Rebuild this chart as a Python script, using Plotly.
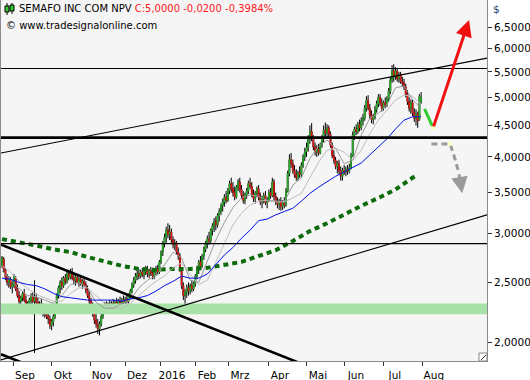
import math
import pandas as pd
import plotly.graph_objects as go

# ---------------- data ----------------
DATES = pd.bdate_range("2015-08-21", "2016-07-29")  # 246 daily bars

OPEN = [
    2.66, 2.73, 2.62, 2.55, 2.50, 2.52, 2.46, 2.47, 2.54, 2.44,
    2.38, 2.33, 2.36, 2.40, 2.34, 2.28, 2.31, 2.34, 2.37, 2.33,
    2.36, 2.32, 2.28, 2.30, 2.27, 2.23, 2.26, 2.20, 2.18, 2.13,
    2.16, 2.20, 2.28, 2.38, 2.45, 2.50, 2.47, 2.54, 2.51, 2.58,
    2.55, 2.60, 2.54, 2.52, 2.55, 2.50, 2.53, 2.49, 2.51, 2.48,
    2.43, 2.38, 2.33, 2.28, 2.24, 2.17, 2.14, 2.10, 2.14, 2.20,
    2.26, 2.29, 2.27, 2.30, 2.28, 2.31, 2.29, 2.32, 2.30, 2.33,
    2.31, 2.34, 2.32, 2.35, 2.33, 2.38, 2.42, 2.48, 2.52, 2.56,
    2.58, 2.56, 2.60, 2.57, 2.60, 2.63, 2.58, 2.61, 2.59, 2.56,
    2.60, 2.63, 2.60, 2.70, 2.80, 2.90, 2.96, 3.04, 2.99, 3.02,
    2.93, 2.88, 2.90, 2.80, 2.76, 2.62, 2.47, 2.38, 2.41, 2.45,
    2.42, 2.47, 2.44, 2.49, 2.56, 2.63, 2.70, 2.66, 2.76, 2.83,
    2.90, 2.94, 2.92, 3.04, 3.09, 3.14, 3.10, 3.21, 3.26, 3.33,
    3.38, 3.44, 3.40, 3.53, 3.62, 3.55, 3.50, 3.44, 3.57, 3.64,
    3.54, 3.46, 3.40, 3.47, 3.52, 3.62, 3.58, 3.48, 3.42, 3.49,
    3.55, 3.44, 3.38, 3.42, 3.46, 3.37, 3.40, 3.50, 3.46, 3.64,
    3.45, 3.38, 3.35, 3.39, 3.32, 3.36, 3.34, 3.52, 3.76, 3.96,
    3.90, 3.80, 3.74, 3.70, 3.77, 3.74, 3.88, 4.00, 4.08, 4.14,
    4.28, 4.40, 4.30, 4.15, 4.08, 4.12, 4.06, 4.18, 4.28, 4.42,
    4.38, 4.46, 4.36, 4.18, 4.02, 3.95, 3.86, 3.90, 3.80, 3.72,
    3.80, 3.78, 3.82, 3.79, 3.84, 4.02, 4.34, 4.44, 4.40, 4.52,
    4.46, 4.58, 4.62, 4.80, 4.94, 4.80, 4.68, 4.60, 4.64, 4.78,
    4.88, 5.00, 4.90, 4.80, 4.90, 4.86, 4.97, 5.12, 5.34, 5.52,
    5.40, 5.52, 5.36, 5.44, 5.30, 5.28, 5.20, 5.06, 4.92, 4.80,
    4.90, 4.72, 4.62, 4.70, 4.60, 4.92,
]
HIGH = [
    2.76, 2.75, 2.64, 2.58, 2.56, 2.55, 2.52, 2.58, 2.56, 2.48,
    2.42, 2.38, 2.42, 2.44, 2.38, 2.33, 2.36, 2.40, 2.41, 2.52,
    2.40, 2.36, 2.33, 2.35, 2.31, 2.29, 2.30, 2.24, 2.21, 2.18,
    2.22, 2.30, 2.40, 2.47, 2.52, 2.55, 2.56, 2.58, 2.60, 2.62,
    2.63, 2.64, 2.58, 2.57, 2.58, 2.55, 2.56, 2.53, 2.55, 2.51,
    2.47, 2.42, 2.36, 2.32, 2.26, 2.22, 2.18, 2.16, 2.22, 2.28,
    2.32, 2.33, 2.32, 2.34, 2.33, 2.35, 2.34, 2.36, 2.35, 2.37,
    2.36, 2.38, 2.37, 2.39, 2.40, 2.44, 2.50, 2.55, 2.59, 2.62,
    2.63, 2.62, 2.64, 2.62, 2.66, 2.66, 2.63, 2.65, 2.64, 2.62,
    2.66, 2.67, 2.72, 2.82, 2.92, 3.00, 3.08, 3.12, 3.10, 3.06,
    2.97, 2.94, 2.92, 2.85, 2.79, 2.64, 2.50, 2.44, 2.48, 2.50,
    2.49, 2.52, 2.51, 2.58, 2.66, 2.72, 2.76, 2.78, 2.86, 2.92,
    2.98, 3.02, 3.06, 3.12, 3.18, 3.20, 3.24, 3.30, 3.36, 3.42,
    3.48, 3.52, 3.56, 3.66, 3.70, 3.64, 3.58, 3.60, 3.68, 3.70,
    3.60, 3.52, 3.50, 3.56, 3.66, 3.70, 3.64, 3.54, 3.52, 3.58,
    3.60, 3.50, 3.46, 3.50, 3.52, 3.44, 3.54, 3.56, 3.70, 3.68,
    3.50, 3.44, 3.42, 3.44, 3.40, 3.44, 3.56, 3.80, 4.04, 4.06,
    3.96, 3.88, 3.82, 3.80, 3.86, 3.92, 4.04, 4.14, 4.22, 4.34,
    4.50, 4.54, 4.34, 4.22, 4.18, 4.20, 4.22, 4.34, 4.50, 4.55,
    4.52, 4.50, 4.40, 4.22, 4.10, 4.00, 3.94, 3.96, 3.86, 3.84,
    3.88, 3.86, 3.88, 3.90, 4.06, 4.40, 4.48, 4.52, 4.56, 4.60,
    4.64, 4.70, 4.86, 5.02, 5.04, 4.88, 4.76, 4.70, 4.84, 4.94,
    5.06, 5.06, 4.98, 4.94, 5.00, 5.02, 5.18, 5.40, 5.64, 5.66,
    5.60, 5.58, 5.50, 5.50, 5.40, 5.36, 5.26, 5.14, 5.00, 4.96,
    4.96, 4.80, 4.78, 4.74, 5.06, 5.10,
]
LOW = [
    2.64, 2.60, 2.52, 2.47, 2.45, 2.44, 2.40, 2.45, 2.42, 2.36,
    2.30, 2.28, 2.33, 2.32, 2.26, 2.24, 2.27, 2.30, 2.31, 1.92,
    2.30, 2.26, 2.22, 2.25, 2.20, 2.19, 2.18, 2.14, 2.10, 2.09,
    2.12, 2.18, 2.26, 2.35, 2.40, 2.43, 2.45, 2.48, 2.49, 2.52,
    2.53, 2.52, 2.48, 2.47, 2.49, 2.46, 2.47, 2.44, 2.46, 2.40,
    2.36, 2.30, 2.25, 2.20, 2.14, 2.11, 2.06, 2.05, 2.12, 2.18,
    2.22, 2.24, 2.24, 2.26, 2.25, 2.27, 2.26, 2.28, 2.27, 2.29,
    2.28, 2.30, 2.29, 2.31, 2.31, 2.35, 2.40, 2.45, 2.49, 2.52,
    2.53, 2.54, 2.55, 2.53, 2.57, 2.55, 2.54, 2.56, 2.53, 2.53,
    2.57, 2.57, 2.58, 2.68, 2.76, 2.85, 2.90, 2.95, 2.93, 2.90,
    2.84, 2.82, 2.78, 2.72, 2.60, 2.44, 2.34, 2.30, 2.36, 2.38,
    2.39, 2.41, 2.42, 2.46, 2.53, 2.58, 2.62, 2.64, 2.72, 2.80,
    2.84, 2.88, 2.90, 2.98, 3.02, 3.04, 3.07, 3.14, 3.22, 3.26,
    3.32, 3.36, 3.38, 3.48, 3.50, 3.45, 3.40, 3.42, 3.52, 3.50,
    3.42, 3.36, 3.35, 3.42, 3.48, 3.55, 3.44, 3.38, 3.36, 3.44,
    3.40, 3.34, 3.30, 3.36, 3.34, 3.30, 3.38, 3.42, 3.44, 3.40,
    3.34, 3.30, 3.28, 3.27, 3.28, 3.30, 3.32, 3.50, 3.72, 3.84,
    3.76, 3.70, 3.66, 3.66, 3.70, 3.70, 3.84, 3.94, 4.00, 4.08,
    4.20, 4.24, 4.10, 4.02, 4.00, 4.02, 4.04, 4.14, 4.22, 4.32,
    4.30, 4.30, 4.14, 3.98, 3.90, 3.82, 3.76, 3.74, 3.66, 3.66,
    3.74, 3.72, 3.74, 3.76, 3.82, 4.00, 4.26, 4.34, 4.36, 4.40,
    4.42, 4.50, 4.58, 4.74, 4.76, 4.62, 4.54, 4.52, 4.60, 4.72,
    4.82, 4.84, 4.74, 4.76, 4.80, 4.82, 4.92, 5.06, 5.28, 5.30,
    5.34, 5.30, 5.28, 5.26, 5.20, 5.14, 5.00, 4.86, 4.74, 4.70,
    4.66, 4.56, 4.50, 4.46, 4.58, 4.88,
]
CLOSE = [
    2.74, 2.62, 2.55, 2.50, 2.53, 2.46, 2.48, 2.55, 2.44, 2.38,
    2.33, 2.36, 2.40, 2.34, 2.28, 2.31, 2.34, 2.37, 2.33, 2.36,
    2.32, 2.28, 2.30, 2.27, 2.23, 2.26, 2.20, 2.18, 2.13, 2.16,
    2.20, 2.28, 2.38, 2.45, 2.50, 2.47, 2.54, 2.51, 2.58, 2.55,
    2.60, 2.54, 2.52, 2.55, 2.50, 2.53, 2.49, 2.51, 2.48, 2.43,
    2.38, 2.33, 2.28, 2.24, 2.17, 2.14, 2.10, 2.14, 2.20, 2.26,
    2.29, 2.27, 2.30, 2.28, 2.31, 2.29, 2.32, 2.30, 2.33, 2.31,
    2.34, 2.32, 2.35, 2.33, 2.38, 2.42, 2.48, 2.52, 2.56, 2.58,
    2.56, 2.60, 2.57, 2.60, 2.63, 2.58, 2.61, 2.59, 2.56, 2.60,
    2.63, 2.60, 2.70, 2.80, 2.90, 2.96, 3.04, 2.99, 3.02, 2.93,
    2.88, 2.90, 2.80, 2.76, 2.62, 2.47, 2.38, 2.41, 2.45, 2.42,
    2.47, 2.44, 2.49, 2.56, 2.63, 2.70, 2.66, 2.76, 2.83, 2.90,
    2.94, 2.92, 3.04, 3.09, 3.14, 3.10, 3.21, 3.26, 3.33, 3.38,
    3.44, 3.40, 3.53, 3.62, 3.55, 3.50, 3.44, 3.57, 3.64, 3.54,
    3.46, 3.40, 3.47, 3.52, 3.62, 3.58, 3.48, 3.42, 3.49, 3.55,
    3.44, 3.38, 3.42, 3.46, 3.37, 3.40, 3.50, 3.46, 3.64, 3.45,
    3.38, 3.35, 3.39, 3.32, 3.36, 3.34, 3.52, 3.76, 3.96, 3.90,
    3.80, 3.74, 3.70, 3.77, 3.74, 3.88, 4.00, 4.08, 4.14, 4.28,
    4.40, 4.30, 4.15, 4.08, 4.12, 4.06, 4.18, 4.28, 4.42, 4.38,
    4.46, 4.36, 4.18, 4.02, 3.95, 3.86, 3.90, 3.80, 3.72, 3.80,
    3.78, 3.82, 3.79, 3.84, 4.02, 4.34, 4.44, 4.40, 4.52, 4.46,
    4.58, 4.62, 4.80, 4.94, 4.80, 4.68, 4.60, 4.64, 4.78, 4.88,
    5.00, 4.90, 4.80, 4.90, 4.86, 4.97, 5.12, 5.34, 5.52, 5.40,
    5.52, 5.36, 5.44, 5.30, 5.28, 5.20, 5.06, 4.92, 4.80, 4.90,
    4.72, 4.62, 4.70, 4.58, 5.02, 5.00,
]

# moving averages (every 5th bar)
MA_DATES = list(DATES[::5])
MA_BLUE = [
    2.54, 2.53, 2.50, 2.48, 2.47, 2.44, 2.40, 2.37, 2.36, 2.35,
    2.34, 2.34, 2.34, 2.34, 2.33, 2.35, 2.36, 2.38, 2.42, 2.47,
    2.51, 2.56, 2.54, 2.54, 2.58, 2.67, 2.77, 2.85, 2.95, 3.04,
    3.15, 3.17, 3.22, 3.26, 3.30, 3.39, 3.49, 3.57, 3.65, 3.72,
    3.78, 3.85, 3.91, 4.03, 4.16, 4.28, 4.44, 4.59, 4.65, 4.65,
]
MA_GRAY_FAST = [
    2.61, 2.52, 2.44, 2.38, 2.37, 2.34, 2.31, 2.38, 2.48, 2.50,
    2.45, 2.32, 2.27, 2.27, 2.31, 2.34, 2.45, 2.52, 2.56, 2.67,
    2.80, 2.74, 2.52, 2.50, 2.70, 2.93, 3.13, 3.31, 3.43, 3.47,
    3.45, 3.40, 3.39, 3.38, 3.60, 3.70, 3.98, 4.16, 4.26, 4.13,
    3.90, 3.95, 4.34, 4.62, 4.71, 4.86, 5.18, 5.22, 4.95, 4.80,
]
MA_GRAY_SLOW = [
    2.66, 2.60, 2.51, 2.44, 2.39, 2.36, 2.33, 2.33, 2.40, 2.45,
    2.45, 2.38, 2.31, 2.27, 2.27, 2.31, 2.38, 2.45, 2.51, 2.56,
    2.64, 2.69, 2.58, 2.48, 2.52, 2.70, 2.91, 3.10, 3.24, 3.34,
    3.39, 3.40, 3.38, 3.38, 3.43, 3.49, 3.70, 3.92, 4.10, 4.13,
    4.07, 3.95, 4.10, 4.36, 4.59, 4.77, 4.95, 5.04, 5.02, 4.87,
]
MA200_DATES = list(DATES[::10]) + [DATES[243]]
MA200 = [
    2.94, 2.91, 2.87, 2.83, 2.80, 2.75, 2.70, 2.66, 2.63, 2.62,
    2.63, 2.63, 2.64, 2.67, 2.70, 2.76, 2.82, 2.92, 3.03, 3.12,
    3.23, 3.33, 3.43, 3.54, 3.70, 3.74,
]

# drawn levels / trend lines (prices at left and right edge of the chart)
X_LEFT, X_RIGHT = "2015-08-20 10:00", "2016-09-21 12:00"
LEVEL_TOP = 5.57
LEVEL_SUPPORT = 4.30
LEVEL_LOW = 2.89
BAND = [2.22, 2.31]
CHANNEL_UPPER = [4.06, 5.79]
CHANNEL_LOWER = [1.87, 3.22]
DOWNTREND = [2.88, 1.40]
DOWNTREND_2 = [1.91, 0.93]

# projection arrows
GREEN_DATES = ["2016-08-02", "2016-08-09"]
GREEN_PRICES = [4.79, 4.46]
RED_DATES = ["2016-08-09", "2016-09-07"]
RED_PRICES = [4.46, 6.68]
GRAY_DATES = ["2016-08-08", "2016-08-23", "2016-08-26", "2016-08-30", "2016-09-01"]
GRAY_PRICES = [4.20, 4.20, 3.95, 3.77, 3.49]
KNOT_DATES = ["2016-08-09", "2016-08-23"]
KNOT_PRICES = [4.46, 4.20]

MONTH_TICKS = ["2015-09-01", "2015-10-01 05:00", "2015-11-03", "2015-12-01 11:00",
               "2015-12-29 22:00", "2016-01-27 09:00", "2016-02-23 16:00",
               "2016-03-28 01:00", "2016-04-27 06:00", "2016-05-27 11:00",
               "2016-06-29 06:00", "2016-08-01"]
MONTH_LABELS = ["Sep", "Okt", "Nov", "Dez", "2016", "Feb", "Mrz", "Apr", "Mai",
                "Jun", "Jul", "Aug"]
Y_TICKS = [2.0, 2.5, 3.0, 3.5, 4.0, 4.5, 5.0, 5.5, 6.0, 6.5]
Y_RANGE = [1.8626, 7.199]

TITLE = "SEMAFO INC COM NPV"
QUOTE = "C:5,0000 -0,0200 -0,3984%"
SOURCE = "© www.tradesignalonline.com"

# ---------------- figure ----------------
FONT = "DejaVu Sans"
fig = go.Figure()

edges = [X_LEFT, X_RIGHT]

fig.add_trace(go.Scatter(x=[X_LEFT, X_RIGHT, X_RIGHT, X_LEFT, X_LEFT],
                         y=[BAND[0], BAND[0], BAND[1], BAND[1], BAND[0]],
                         fill="toself", fillcolor="#a8e2a8", mode="none",
                         hoverinfo="skip"))

# wicks + outline in black
fig.add_trace(go.Candlestick(
    x=DATES, open=OPEN, high=HIGH, low=LOW, close=CLOSE,
    increasing=dict(line=dict(color="#000000", width=1), fillcolor="#2ebd2e"),
    decreasing=dict(line=dict(color="#000000", width=1), fillcolor="#f01818"),
    whiskerwidth=0, hoverinfo="skip"))
# coloured bodies on top (body only: high/low clipped to the body)
BODY_TOP = [max(o, c) for o, c in zip(OPEN, CLOSE)]
BODY_BOT = [min(o, c) for o, c in zip(OPEN, CLOSE)]
fig.add_trace(go.Candlestick(
    x=DATES, open=OPEN, high=BODY_TOP, low=BODY_BOT, close=CLOSE,
    increasing=dict(line=dict(color="#2ebd2e", width=0.6), fillcolor="#2ebd2e"),
    decreasing=dict(line=dict(color="#f01818", width=0.6), fillcolor="#f01818"),
    whiskerwidth=0, hoverinfo="skip"))

fig.add_trace(go.Scatter(x=MA200_DATES, y=MA200, mode="lines",
                         line=dict(color="#0d6a0d", width=4, dash="5px,4px"),
                         hoverinfo="skip"))
fig.add_trace(go.Scatter(x=MA_DATES, y=MA_GRAY_SLOW, mode="lines",
                         line=dict(color="#bdbdbd", width=1), hoverinfo="skip"))
fig.add_trace(go.Scatter(x=MA_DATES, y=MA_GRAY_FAST, mode="lines",
                         line=dict(color="#9a9a9a", width=1), hoverinfo="skip"))
fig.add_trace(go.Scatter(x=MA_DATES, y=MA_BLUE, mode="lines",
                         line=dict(color="#0010e0", width=1), hoverinfo="skip"))

for lvl, w in [(LEVEL_TOP, 1.2), (LEVEL_SUPPORT, 2.6), (LEVEL_LOW, 1.2)]:
    fig.add_trace(go.Scatter(x=edges, y=[lvl, lvl], mode="lines",
                             line=dict(color="black", width=w), hoverinfo="skip"))
for pair, w in [(CHANNEL_UPPER, 1.1), (CHANNEL_LOWER, 1.1),
                (DOWNTREND, 2.6), (DOWNTREND_2, 2.6)]:
    fig.add_trace(go.Scatter(x=edges, y=pair, mode="lines",
                             line=dict(color="black", width=w), hoverinfo="skip"))

fig.add_trace(go.Scatter(x=GRAY_DATES[:-1], y=GRAY_PRICES[:-1], mode="lines",
                         line=dict(color="#9a9a9a", width=3, dash="6px,4px"),
                         hoverinfo="skip"))
fig.add_trace(go.Scatter(x=GREEN_DATES, y=GREEN_PRICES, mode="lines",
                         line=dict(color="#33cc33", width=3), hoverinfo="skip"))

annotations = [
    dict(x=RED_DATES[1], y=math.log10(RED_PRICES[1]), ax=RED_DATES[0],
         ay=math.log10(RED_PRICES[0]), xref="x", yref="y", axref="x", ayref="y",
         showarrow=True, arrowhead=2, arrowsize=1.1, arrowwidth=3,
         arrowcolor="#f01010", text=""),
    dict(x=GRAY_DATES[-1], y=math.log10(GRAY_PRICES[-1]), ax=GRAY_DATES[-2],
         ay=math.log10(GRAY_PRICES[-2]), xref="x", yref="y", axref="x", ayref="y",
         showarrow=True, arrowhead=2, arrowsize=1.1, arrowwidth=3,
         arrowcolor="#9a9a9a", text=""),
]

fig.add_trace(go.Scatter(x=KNOT_DATES, y=KNOT_PRICES, mode="markers",
                         marker=dict(symbol="square", size=4, color="#ffffc4",
                                     line=dict(width=0)), hoverinfo="skip"))

PLOT_W, PLOT_H = 486, 361


def px(x):
    return (x - 1) / PLOT_W


def py(y):
    return 1 - y / PLOT_H


annotations += [
    dict(x=px(17), y=py(9), xref="paper", yref="paper", xanchor="left",
         yanchor="middle", showarrow=False,
         text=TITLE + " <span style='color:#ff1a1a'>" + QUOTE + "</span>",
         font=dict(family=FONT, size=10, color="black")),
    dict(x=px(4), y=py(26), xref="paper", yref="paper", xanchor="left",
         yanchor="middle", showarrow=False, text=SOURCE,
         font=dict(family=FONT, size=10, color="black")),
    dict(x=px(491), y=py(9), xref="paper", yref="paper", xanchor="left",
         yanchor="middle", showarrow=False, text="$",
         font=dict(family=FONT, size=10.5, color="#2a4670")),
]

shapes = []
# little candle icon in the header
for cx, top, b0, b1, bot in [(7, 3, 6, 12, 15), (12, 3, 5, 11, 14)]:
    shapes.append(dict(type="line", xref="paper", yref="paper",
                       x0=px(cx), x1=px(cx), y0=py(top), y1=py(bot),
                       line=dict(color="black", width=1)))
    shapes.append(dict(type="rect", xref="paper", yref="paper",
                       x0=px(cx - 2), x1=px(cx + 2), y0=py(b0), y1=py(b1),
                       fillcolor="#33cc33", line=dict(color="black", width=1)))
# resize glyph in the bottom-right corner
shapes.append(dict(type="rect", xref="paper", yref="paper",
                   x0=px(479), x1=px(487), y0=py(361), y1=py(353),
                   fillcolor="white", line=dict(color="#888", width=1)))
shapes.append(dict(type="line", xref="paper", yref="paper",
                   x0=px(481), x1=px(486), y0=py(360), y1=py(355),
                   line=dict(color="#333", width=1)))

fig.update_layout(
    width=530, height=380, margin=dict(l=1, r=43, t=0, b=19),
    paper_bgcolor="white", plot_bgcolor="#f5f5f5", showlegend=False,
    separators=",.", font=dict(family=FONT, size=10.5, color="black"),
    annotations=annotations, shapes=shapes,
    xaxis=dict(type="date", range=[X_LEFT, X_RIGHT],
               rangebreaks=[dict(bounds=["sat", "mon"])],
               rangeslider=dict(visible=False), tickmode="array",
               tickvals=MONTH_TICKS, ticktext=MONTH_LABELS, ticks="outside",
               ticklen=4, tickcolor="#333", showline=True, linecolor="#8c8c8c",
               showgrid=False, zeroline=False, ticklabelshift=11,
               tickfont=dict(family=FONT, size=10.5, color="black")),
    yaxis=dict(type="log", side="right",
               range=[math.log10(Y_RANGE[0]), math.log10(Y_RANGE[1])],
               tickmode="array", tickvals=Y_TICKS, tickformat=".4f",
               ticks="outside", ticklen=4, tickcolor="#333", showline=True,
               mirror=True, linecolor="#8c8c8c", showgrid=False, zeroline=False,
               tickfont=dict(family=FONT, size=10.5, color="black")),
)

fig.write_html("out.html",
               config={"displayModeBar": False, "staticPlot": True},
               post_script="document.body.style.margin='0px';"
                           "document.body.style.overflow='hidden';")
